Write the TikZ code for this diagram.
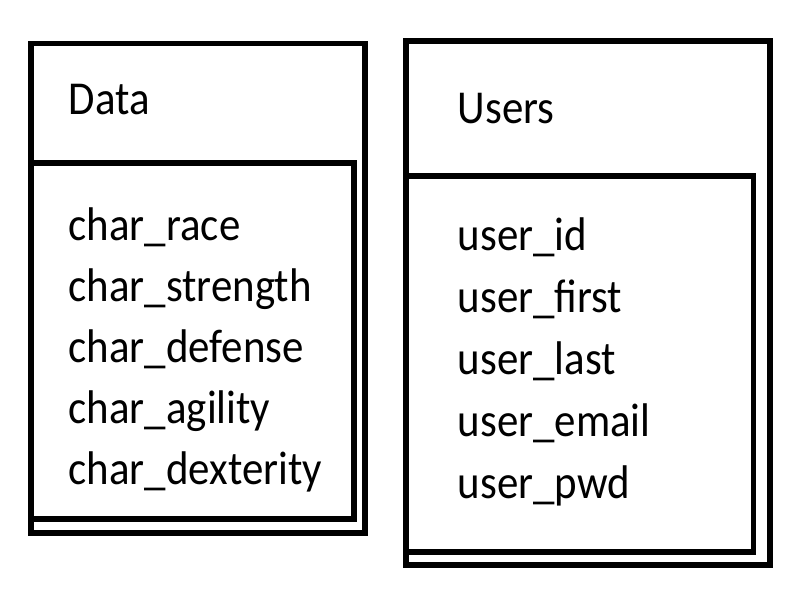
\documentclass[tikz,border=0pt]{standalone}
\usepackage{fontspec}
\setmainfont{Carlito}
\usepackage{tikz}

\begin{document}
\begin{tikzpicture}[x=0.01cm,y=-0.01cm,
	tbl/.style={line width=1.5pt},
	field/.style={anchor=base west,inner sep=0pt,yscale=1.1,transform shape,
		font=\fontsize{12.2}{14}\selectfont}]
	\useasboundingbox (0,0) rectangle (800,600);

%	====================================================================
	\draw[tbl] (31,43.5) rectangle (365,533);
	\draw[tbl] (31,163) rectangle (354,519);

	\node[field] (data)      at (68,114) {Data};
	\node[field] (race)      at (68,240) {char\_race};
	\node[field] (strength)  at (68,301) {char\_strength};
	\node[field] (defense)   at (68,362) {char\_defense};
	\node[field] (agility)   at (68,423) {char\_agility};
	\node[field] (dexterity) at (68,484) {char\_dexterity};

%	====================================================================
	\draw[tbl] (406,41) rectangle (770,565);
	\draw[tbl] (406,176) rectangle (753.5,552);

	\node[field] (users) at (457,123) {Users};
	\node[field] (id)    at (457,250) {user\_id};
	\node[field] (first) at (457,312) {user\_first};
	\node[field] (last)  at (457,374) {user\_last};
	\node[field] (email) at (457,436) {user\_email};
	\node[field] (pwd)   at (457,498) {user\_pwd};
\end{tikzpicture}
\end{document}
